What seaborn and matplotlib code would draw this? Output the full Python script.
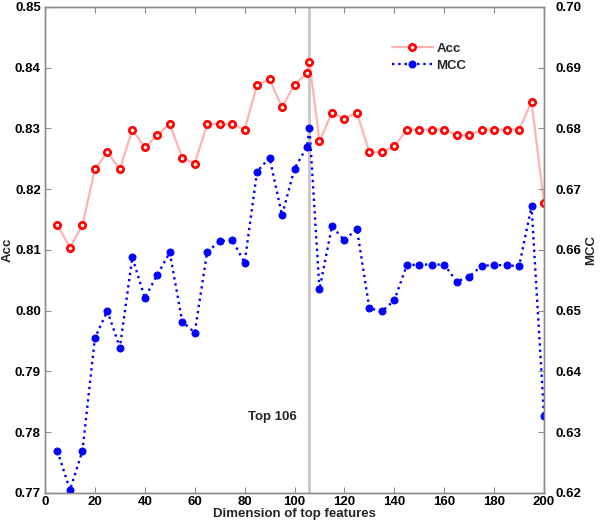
import numpy as np
import pandas as pd
import seaborn as sns
import matplotlib.pyplot as plt

# feature dimensions (x axis)
dims = [5, 10, 15, 20, 25, 30, 35, 40, 45, 50, 55, 60, 65, 70, 75, 80, 85, 90, 95, 100,
        105, 106, 110, 115, 120, 125, 130, 135, 140, 145, 150, 155, 160, 165, 170, 175,
        180, 185, 190, 195, 200]

acc = [0.8141, 0.8104, 0.8141, 0.8233, 0.8261, 0.8233, 0.8298, 0.8269, 0.8289, 0.8307,
       0.8252, 0.8242, 0.8307, 0.8307, 0.8307, 0.8298, 0.8372, 0.8381, 0.8335, 0.8372,
       0.8391, 0.8409, 0.8279, 0.8326, 0.8316, 0.8326, 0.8261, 0.8261, 0.8271, 0.8298,
       0.8298, 0.8298, 0.8298, 0.8289, 0.8289, 0.8298, 0.8298, 0.8298, 0.8298, 0.8344,
       0.8178]

mcc = [0.6269, 0.6205, 0.6269, 0.6455, 0.6500, 0.6439, 0.6588, 0.6521, 0.6559, 0.6596,
       0.6482, 0.6464, 0.6597, 0.6614, 0.6617, 0.6579, 0.6729, 0.6752, 0.6657, 0.6734,
       0.6770, 0.6801, 0.6535, 0.6639, 0.6616, 0.6635, 0.6504, 0.6499, 0.6517, 0.6575,
       0.6576, 0.6576, 0.6576, 0.6548, 0.6556, 0.6574, 0.6575, 0.6575, 0.6573, 0.6672,
       0.6327]

best_dim = 106

df = pd.DataFrame({"dim": dims, "Acc": acc, "MCC": mcc})

sns.set_style("white")
plt.rcParams['font.family'] = ['Liberation Sans', 'DejaVu Sans']
plt.rcParams['font.weight'] = 'bold'
plt.rcParams['font.size'] = 9.5

axis_grey = '#8c8c8c'

fig = plt.figure(figsize=(6, 5.25), dpi=100)
ax = fig.add_axes([0.075, 0.061, 0.8317, 0.9257])
ax2 = ax.twinx()

# Acc on the left axis
sns.lineplot(data=df, x="dim", y="Acc", ax=ax, color='#ffb3b3', lw=1.6,
             marker='o', markersize=4.6, markerfacecolor='#ffe6e6',
             markeredgecolor='red', markeredgewidth=1.9, label='Acc', legend=False)
# MCC on the right axis
sns.lineplot(data=df, x="dim", y="MCC", ax=ax2, color='blue', lw=1.7, linestyle=':',
             marker='o', markersize=5, markerfacecolor='blue',
             markeredgecolor='blue', label='MCC', legend=False)

ax.axvline(best_dim, color='#c8c8c8', lw=2, zorder=0)
ax.text(101, 0.7825, 'Top 106', ha='right', va='center', fontsize=9.5, fontweight='bold')

ax.set_xlim(0, 200)
ax.set_ylim(0.77, 0.85)
ax2.set_ylim(0.62, 0.70)
ax.set_xticks(np.arange(0, 201, 20))
ax.set_yticks(np.arange(0.77, 0.8501, 0.01))
ax2.set_yticks(np.arange(0.62, 0.7001, 0.01))
ax.set_yticklabels([f"{v:.2f}" for v in np.arange(0.77, 0.8501, 0.01)])
ax2.set_yticklabels([f"{v:.2f}" for v in np.arange(0.62, 0.7001, 0.01)])

ax.set_xlabel('Dimension of top features', fontweight='bold', labelpad=0)
ax.set_ylabel('Acc', fontweight='bold', labelpad=1)
ax2.set_ylabel('MCC', fontweight='bold', labelpad=3)

for a in (ax, ax2):
    for s in a.spines.values():
        s.set_color(axis_grey)
        s.set_linewidth(1)
    a.tick_params(direction='in', length=4, color=axis_grey, labelcolor='black', pad=3)
ax.tick_params(axis='x', top=True, bottom=True, pad=2)
ax.tick_params(axis='y', left=True, right=False)
ax2.tick_params(axis='y', right=True, pad=8)

h1, l1 = ax.get_legend_handles_labels()
h2, l2 = ax2.get_legend_handles_labels()
ax.legend(h1 + h2, l1 + l2, loc='upper left', bbox_to_anchor=(0.671, 0.951),
          frameon=False, handlelength=3.1, handletextpad=0.3, labelspacing=0.35,
          prop={'weight': 'bold', 'size': 9.5})

fig.savefig('out.png', dpi=100)
